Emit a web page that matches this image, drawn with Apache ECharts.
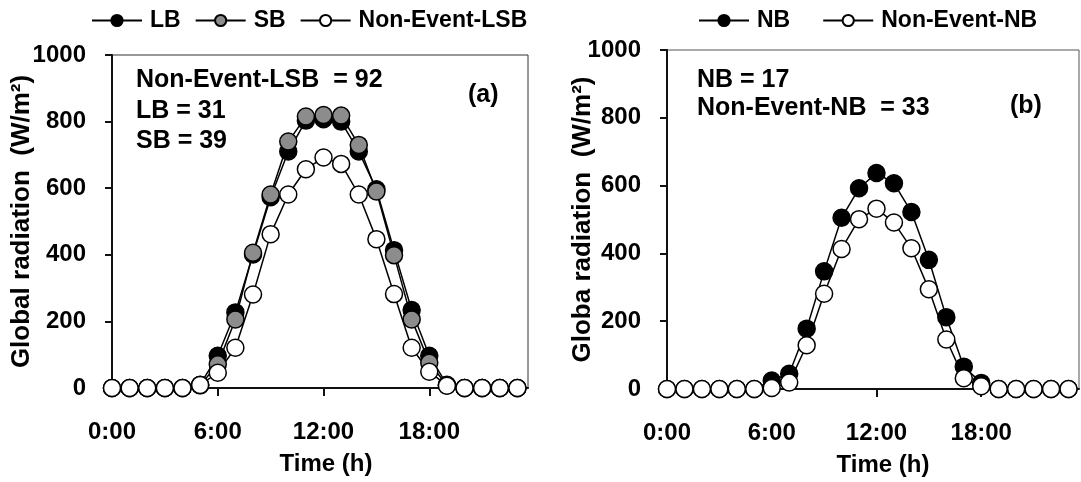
<!DOCTYPE html>
<html>
<head>
<meta charset="utf-8">
<script src="https://cdn.jsdelivr.net/npm/echarts@6/dist/echarts.min.js"></script>
<style>
    html, body { margin: 0; padding: 0; background: #fff; }
    #chart { width: 1081px; height: 482px; }
</style>
</head>
<body>
<div id="chart"></div>
<script>
    // hour of day, 0..23
    var hours = [0, 1, 2, 3, 4, 5, 6, 7, 8, 9, 10, 11, 12, 13, 14, 15, 16, 17, 18, 19, 20, 21, 22, 23];
    var hourTicks = [0, 6, 12, 18];

    // panel (a)
    var lb = [0, 0, 0, 0, 0, 10, 97, 227, 401, 573, 710, 803, 807, 800, 710, 597, 414, 234, 97, 10, 0, 0, 0, 0];
    var sb = [0, 0, 0, 0, 0, 8, 71, 206, 406, 581, 740, 815, 820, 818, 730, 590, 399, 206, 76, 8, 0, 0, 0, 0];
    var nonEventLsb = [0, 0, 0, 0, 0, 9, 46, 121, 281, 462, 581, 657, 692, 673, 581, 447, 282, 121, 49, 7, 0, 0, 0, 0];

    // panel (b)
    var nb = [0, 0, 0, 0, 0, 0, 25, 45, 178, 347, 505, 592, 637, 607, 522, 381, 212, 66, 18, 0, 0, 0, 0, 0];
    var nonEventNb = [0, 0, 0, 0, 0, 0, 3, 19, 129, 281, 413, 501, 532, 491, 415, 294, 146, 32, 8, 0, 0, 0, 0, 0];

    var FONT = 'Liberation Sans, Arial, sans-serif';

    var pairs = function (vals) {
        var out = [];
        for (var i = 0; i < hours.length; i++) {
            out.push([hours[i], vals[i]]);
        }
        return out;
    };

    var xAxisOf = function (idx, nameShift) {
        return {
            type: 'value',
            gridIndex: idx,
            min: 0,
            max: 23.6,
            name: 'Time (h)',
            nameLocation: 'middle',
            nameGap: 64,
            nameMoveOverlap: false,
            nameTextStyle: {
                color: '#000', fontFamily: FONT, fontWeight: 'bold', fontSize: 24,
                padding: [0, 0, 0, nameShift]
            },
            axisLine: {lineStyle: {color: '#111', width: 2}},
            axisTick: {show: true, customValues: [6, 12, 18], length: 8, lineStyle: {color: '#111', width: 2}},
            axisLabel: {
                customValues: hourTicks,
                margin: 32,
                color: '#000', fontFamily: FONT, fontWeight: 'bold', fontSize: 24,
                formatter: function (v) { return v + ':00'; }
            },
            splitLine: {show: false}
        };
    };

    var yAxisOf = function (idx, name, gap) {
        return {
            type: 'value',
            gridIndex: idx,
            min: 0,
            max: 1000,
            interval: 200,
            name: name,
            nameLocation: 'middle',
            nameGap: gap,
            nameMoveOverlap: false,
            nameTextStyle: {color: '#000', fontFamily: FONT, fontWeight: 'bold', fontSize: 26},
            axisLine: {show: true, lineStyle: {color: '#111', width: 2}},
            axisTick: {show: true, length: 7, lineStyle: {color: '#111', width: 2}},
            axisLabel: {
                margin: 26, color: '#000', fontFamily: FONT, fontWeight: 'bold', fontSize: 24,
                formatter: function (v) { return String(v); }
            },
            splitLine: {show: false}
        };
    };

    var lineSeries = function (name, idx, vals, fill) {
        return {
            name: name,
            type: 'line',
            xAxisIndex: idx,
            yAxisIndex: idx,
            data: pairs(vals),
            symbol: 'circle',
            symbolSize: 17,
            clip: false,
            lineStyle: {color: '#000', width: 1.5},
            itemStyle: {color: fill, borderColor: '#000', borderWidth: 1.5}
        };
    };

    var note = function (x, y, txt) {
        return {
            type: 'text',
            left: x,
            top: y,
            style: {text: txt, fill: '#000', font: 'bold 25px ' + FONT}
        };
    };

    var legendText = {color: '#000', fontFamily: FONT, fontWeight: 'bold', fontSize: 23, padding: [0, 0, 0, 3]};

    var myChart = echarts.init(document.getElementById('chart'));
    var option = {
        backgroundColor: '#fff',
        animation: false,
        legend: [{
            left: 91, top: 9, padding: 0,
            itemWidth: 50, itemHeight: 14, itemGap: 14,
            textStyle: legendText,
            data: ['LB', 'SB', 'Non-Event-LSB']
        }, {
            left: 698, top: 9, padding: 0,
            itemWidth: 50, itemHeight: 14, itemGap: 32,
            textStyle: legendText,
            data: ['NB', 'Non-Event-NB']
        }],
        grid: [
            {left: 112, top: 55, width: 416, height: 333, show: true, borderColor: '#333', borderWidth: 1},
            {left: 667, top: 50, width: 412, height: 342, show: true, borderColor: '#555', borderWidth: 1}
        ],
        xAxis: [xAxisOf(0, 12), xAxisOf(1, 20)],
        yAxis: [
            yAxisOf(0, 'Global radiation  (W/m²)', 77),
            yAxisOf(1, 'Globa radiation  (W/m²)', 71)
        ],
        series: [
            lineSeries('LB', 0, lb, '#000'),
            lineSeries('SB', 0, sb, '#8c8c8c'),
            lineSeries('Non-Event-LSB', 0, nonEventLsb, '#fff'),
            lineSeries('NB', 1, nb, '#000'),
            lineSeries('Non-Event-NB', 1, nonEventNb, '#fff')
        ],
        graphic: [
            note(136, 68, 'Non-Event-LSB  = 92'),
            note(136, 99, 'LB = 31'),
            note(136, 129, 'SB = 39'),
            note(468, 83, '(a)'),
            note(697, 68, 'NB = 17'),
            note(697, 96, 'Non-Event-NB  = 33'),
            note(1010, 94, '(b)')
        ]
    };
    myChart.setOption(option);
</script>
</body>
</html>
